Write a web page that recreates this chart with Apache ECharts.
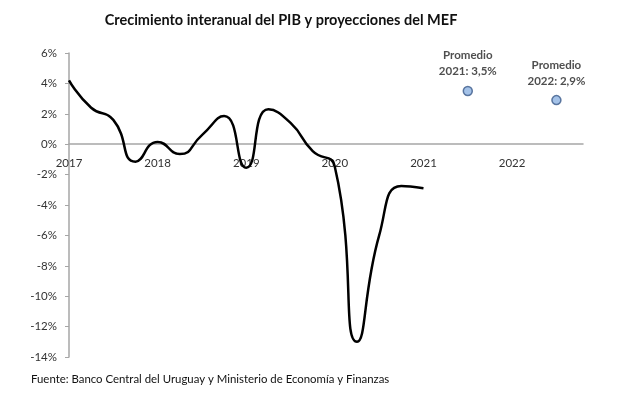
<!DOCTYPE html>
<html><head><meta charset="utf-8">
<script src="https://cdn.jsdelivr.net/npm/echarts@6/dist/echarts.min.js"></script>
<style>html,body{margin:0;padding:0;background:#fff}#c{width:617px;height:395px}</style>
</head><body><div id="c"></div>
<script>
// Quarterly periods (year + quarter fraction) and YoY GDP growth (%)
const quarters = [2017.00, 2017.25, 2017.50, 2017.75, 2018.00, 2018.25, 2018.50, 2018.75,
                  2019.00, 2019.25, 2019.50, 2019.75, 2020.00, 2020.25, 2020.50, 2020.75, 2021.00];
const growth = [4.2, 2.4, 1.6, -1.15, 0.15, -0.65, 0.6, 1.85,
                -1.55, 2.3, 1.4, -0.45, -1.5, -13.0, -6.0, -2.75, -2.9];
// MEF projections (annual averages, plotted mid-year)
const projYears = [2021.5, 2022.5];
const projValues = [3.5, 2.9];
const projLabels = ['Promedio\n2021: 3,5%', 'Promedio\n2022: 2,9%'];
const yearTicks = [2017, 2018, 2019, 2020, 2021, 2022];

const font = 'Lato, "Open Sans", sans-serif';
const W = 617, H = 395;
const grid = {left: 69, right: 34, top: 53, bottom: 38};
const yMin = -14, yMax = 6;
const plotH = H - grid.top - grid.bottom;
// move the year axis (labels included) up to the 0 line
const xOffset = -plotH * (0 - yMin) / (yMax - yMin);

const chart = echarts.init(document.getElementById('c'), null, {renderer: 'canvas'});
chart.setOption({
  backgroundColor: '#fff',
  animation: false,
  title: [{
    text: 'Crecimiento interanual del PIB y proyecciones del MEF',
    left: 276, top: 8, textAlign: 'center',
    textStyle: {fontFamily: font, fontSize: 14.5, fontWeight: 'bold', color: '#111'}
  }, {
    text: 'Fuente: Banco Central del Uruguay y Ministerio de Economía y Finanzas',
    left: 26, top: 369,
    textStyle: {fontFamily: font, fontSize: 11.4, fontWeight: 'normal', color: '#111'}
  }],
  grid: grid,
  xAxis: {
    type: 'value', min: 2017, max: 2022.8, interval: 1,
    offset: xOffset,
    splitLine: {show: false},
    axisLine: {onZero: false, lineStyle: {color: '#a6a6a6', width: 1.5}},
    axisTick: {show: false},
    axisLabel: {
      fontFamily: font, fontSize: 11.5, color: '#333', margin: 13,
      showMaxLabel: false,
      formatter: v => yearTicks.indexOf(Math.round(v)) >= 0 && Math.abs(v - Math.round(v)) < 1e-6 ? String(Math.round(v)) : ''
    }
  },
  yAxis: {
    type: 'value', min: yMin, max: yMax, interval: 2,
    splitLine: {show: false},
    axisLine: {show: true, onZero: false, lineStyle: {color: '#a6a6a6', width: 1.5}},
    axisTick: {show: true, length: 4, lineStyle: {color: '#a6a6a6'}},
    axisLabel: {fontFamily: font, fontSize: 11.5, color: '#333', margin: 12, formatter: v => v + '%'}
  },
  series: [{
    type: 'line', smooth: 0.55, symbol: 'none',
    data: quarters.map((q, i) => [q, growth[i]]),
    lineStyle: {color: '#000', width: 2.5}
  }, {
    type: 'scatter', symbolSize: 9,
    data: projYears.map((x, i) => ({value: [x, projValues[i]], label: {formatter: projLabels[i]}})),
    itemStyle: {color: '#8db3e2', borderColor: '#3b5a8a', borderWidth: 1.5},
    label: {show: true, position: 'top', distance: 6, fontFamily: font, fontSize: 11.5,
            fontWeight: 'bold', color: '#222', lineHeight: 16, align: 'center'}
  }]
});
</script></body></html>
